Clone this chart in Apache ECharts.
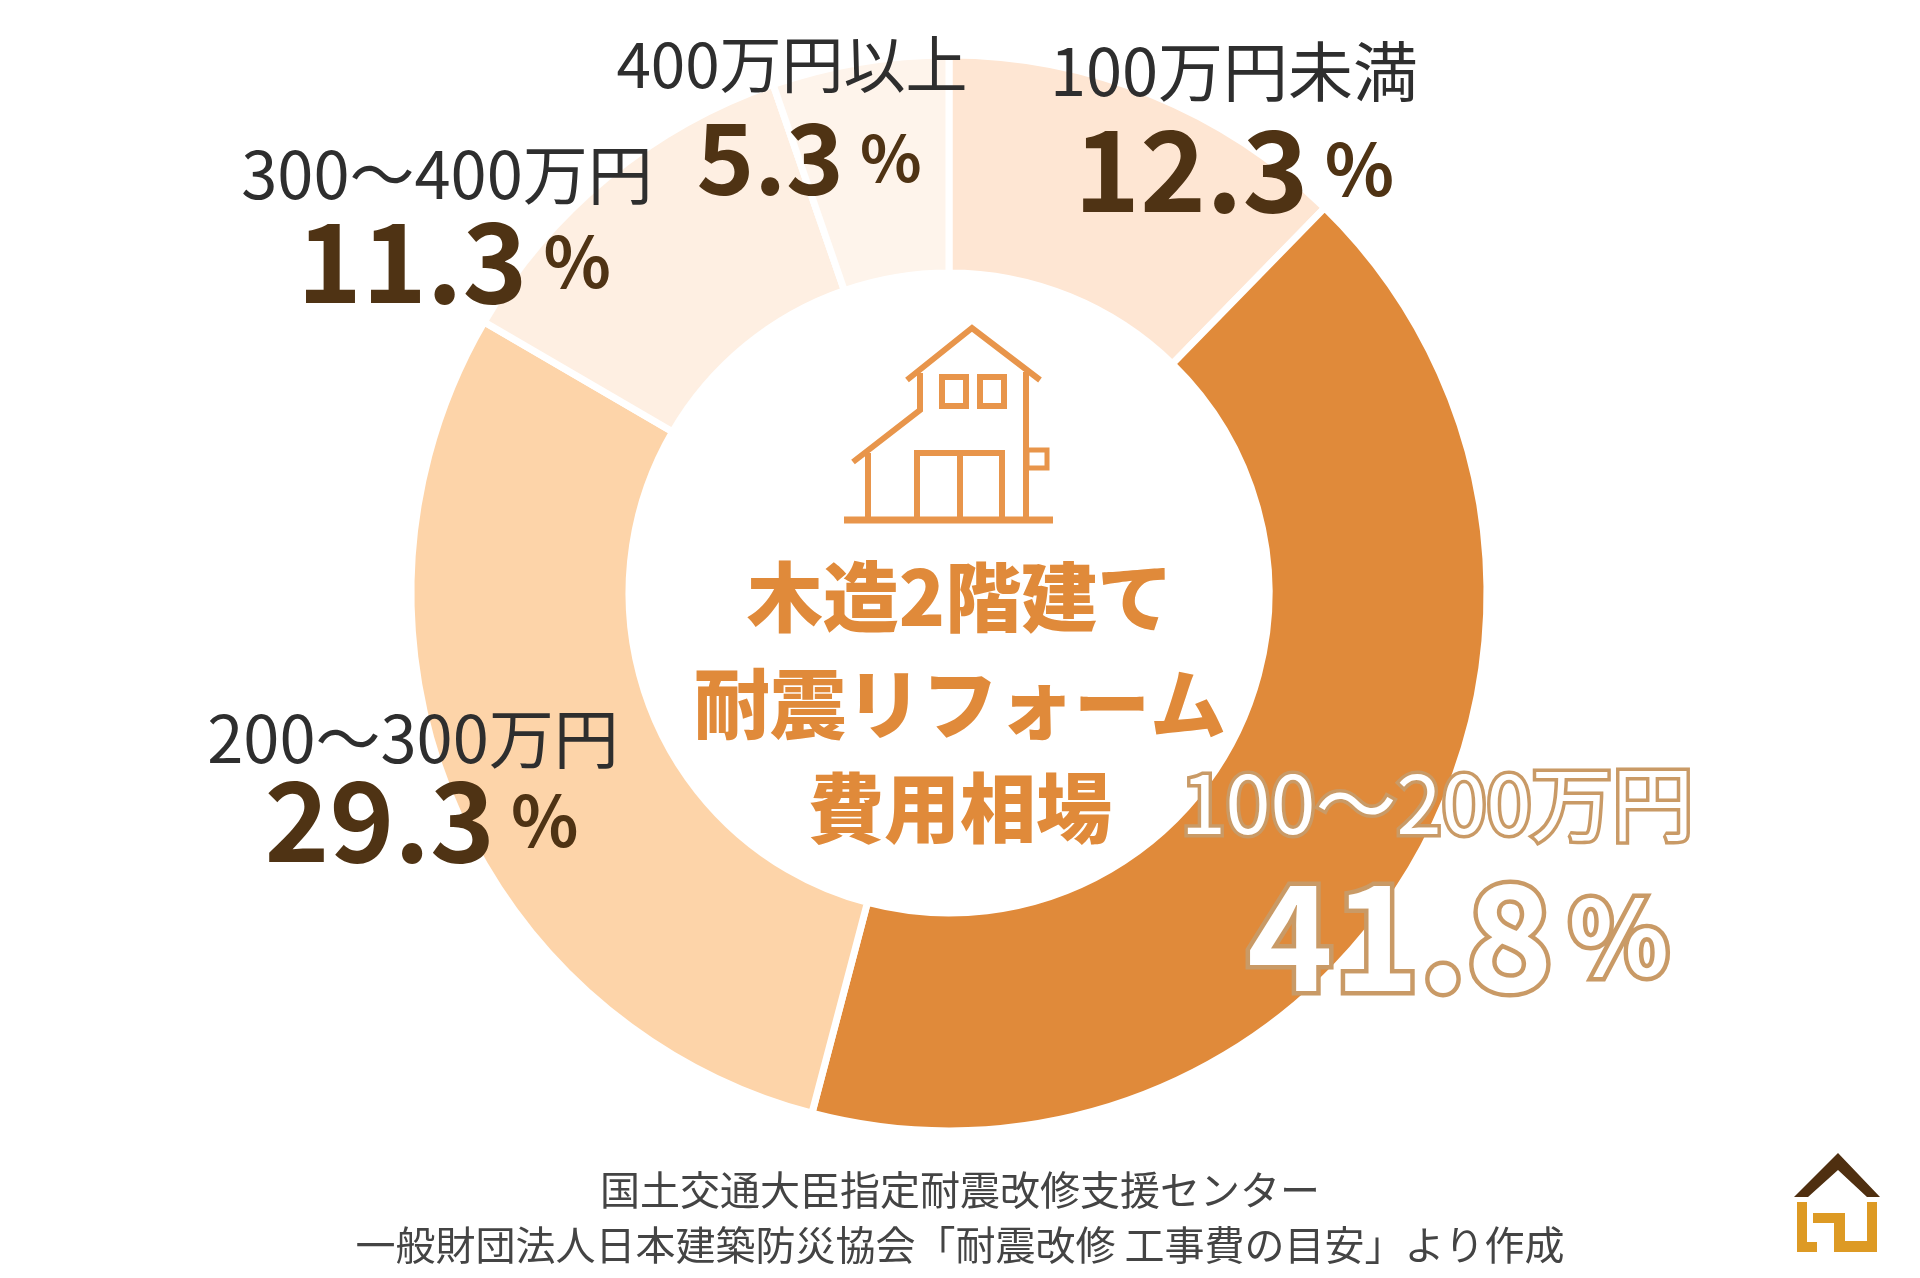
<!DOCTYPE html>
<html>
<head>
<meta charset="UTF-8">
<title>木造2階建て耐震リフォーム費用相場</title>
<script src="https://cdn.jsdelivr.net/npm/echarts@6/dist/echarts.min.js"></script>
<style>html,body{margin:0;padding:0;background:#fff}</style>
</head>
<body>
<div id="main" style="width:1920px;height:1278px"></div>
<script type="text/javascript">
var categories = ['100万円未満', '100〜200万円', '200〜300万円', '300〜400万円', '400万円以上'];
var percents = [12.3, 41.8, 29.3, 11.3, 5.3];
var centerLines = ['木造2階建て', '耐震リフォーム', '費用相場'];
var sourceLines = ['国土交通大臣指定耐震改修支援センター', '一般財団法人日本建築防災協会「耐震改修 工事費の目安」より作成'];

var colors = ['#FEE6D3', '#E08A3A', '#FDD4A9', '#FEEFE2', '#FEF4EB'];
var font = '"Noto Sans CJK JP"';
var dark = '#4F3314';
var orange = '#E8954B';

// label placement, one row per slice
var labelX = [1234, 1437, 413, 447, 792];
var labelY = [129, 886, 785, 226, 120];
var nameSize = [65, 81, 65, 65, 62];
var valueSize = [112, 146, 110, 110, 98];
var pctSize = [72, 104, 70, 70, 64];
var nameLH = [80, 100, 70, 70, 76];
var valueLH = [116, 166, 94, 104, 112];
var valueShift = [0, 42, 17, 14, 34];

var rich = {};
categories.forEach(function (c, i) {
	var outline = i == 1;
	var nameBase = outline ? {color: '#fff', textBorderColor: '#C99A66', textBorderWidth: 7} : {color: '#2E2E2E'};
	var valueBase = outline ? {color: '#fff', textBorderColor: '#C99A66', textBorderWidth: 9} : {color: dark};
	rich['n' + i] = Object.assign({}, nameBase, {fontFamily: font, fontSize: nameSize[i], lineHeight: nameLH[i], fontWeight: 400});
	rich['v' + i] = Object.assign({}, valueBase, {fontFamily: font, fontSize: valueSize[i], lineHeight: valueLH[i], fontWeight: 700, padding: [0, 0, 0, valueShift[i]]});
	rich['p' + i] = Object.assign({}, valueBase, {fontFamily: font, fontSize: pctSize[i], lineHeight: valueLH[i], fontWeight: 700, padding: [0, 0, 0, 16]});
});

// small line drawing helper for the two house icons
function line(pts, w, color) {
	return {type: 'polyline', shape: {points: pts}, style: {fill: null, stroke: color, lineWidth: w, lineJoin: 'miter'}};
}
function box(x, y, w, h, lw, color) {
	return {type: 'rect', shape: {x: x, y: y, width: w, height: h}, style: {fill: null, stroke: color, lineWidth: lw}};
}

var house = [
	line([[844, 520], [1053, 520]], 7, orange),
	line([[907, 380], [972, 328], [1040, 380]], 6, orange),
	line([[920, 373], [920, 410], [853, 462]], 6, orange),
	line([[868, 453], [868, 520]], 6, orange),
	line([[1026, 372], [1026, 520]], 6, orange),
	box(942, 377, 24, 29, 6, orange),
	box(980, 377, 24, 29, 6, orange),
	line([[917, 520], [917, 453], [1002, 453], [1002, 520]], 6, orange),
	line([[960, 453], [960, 520]], 6, orange),
	box(1027, 450, 20, 18, 5, orange)
];

var logo = [
	{type: 'polygon', shape: {points: [[1838, 1153], [1880, 1197], [1867, 1197], [1838, 1170], [1808, 1197], [1794, 1197]]}, style: {fill: '#4F2F10'}},
	{type: 'polygon', shape: {points: [[1797, 1202], [1807, 1202], [1807, 1242], [1817, 1242], [1817, 1252], [1797, 1252]]}, style: {fill: '#DD9A24'}},
	{type: 'polygon', shape: {points: [[1867, 1202], [1877, 1202], [1877, 1252], [1834, 1252], [1834, 1223], [1813, 1223], [1813, 1213], [1845, 1213], [1845, 1241], [1867, 1241]]}, style: {fill: '#DD9A24'}}
];

var centerY = [597, 704, 808];
var centerTexts = centerLines.map(function (t, i) {
	return {type: 'text', x: 960, y: centerY[i], style: {text: t, fill: '#E08A3A', font: '900 76px ' + font, textAlign: 'center', textVerticalAlign: 'middle'}};
});
var sourceY = [1190, 1245];
var sourceTexts = sourceLines.map(function (t, i) {
	return {type: 'text', x: 960, y: sourceY[i], style: {text: t, fill: '#444', font: '400 40px ' + font, textAlign: 'center', textVerticalAlign: 'middle'}};
});

var chart = echarts.init(document.getElementById('main'));
chart.setOption({
	animation: false,
	series: [{
		type: 'pie',
		center: [949, 593],
		radius: [320, 538],
		startAngle: 90,
		clockwise: true,
		silent: true,
		itemStyle: {borderColor: '#fff', borderWidth: 7},
		label: {
			show: true,
			position: 'outside',
			overflow: 'none',
			formatter: function (p) {
				var i = p.dataIndex;
				return '{n' + i + '|' + categories[i] + '}\n{v' + i + '|' + percents[i].toFixed(1) + '}{p' + i + '|%}';
			},
			rich: rich,
			align: 'center'
		},
		labelLine: {show: false},
		labelLayout: function (p) {
			return {x: labelX[p.dataIndex], y: labelY[p.dataIndex], align: 'center', verticalAlign: 'middle'};
		},
		data: categories.map(function (c, i) {
			return {name: c, value: percents[i], itemStyle: {color: colors[i]}};
		})
	}],
	graphic: [].concat(house, logo, centerTexts, sourceTexts)
});
</script>
</body>
</html>
